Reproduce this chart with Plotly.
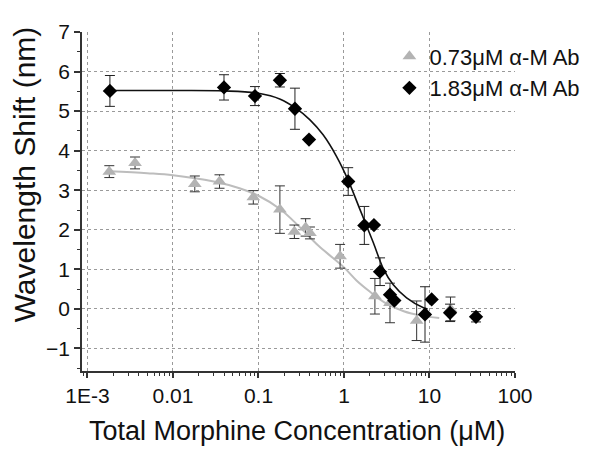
import plotly.graph_objects as go

# ---- data ----
gray_x = [0.0018, 0.0036, 0.018, 0.035, 0.087, 0.178, 0.263, 0.356, 0.40, 0.90, 2.3, 3.45, 7.08, 17.6]
gray_y = [3.47, 3.69, 3.16, 3.22, 2.82, 2.51, 1.95, 2.06, 1.92, 1.33, 0.32, 0.15, -0.30, 0.00]
gray_err = [0.15, 0.15, 0.20, 0.17, 0.17, 0.60, 0.17, 0.22, 0.15, 0.30, 0.45, 0.50, 0.50, 0.30]

black_x = [0.00183, 0.0395, 0.091, 0.178, 0.267, 0.39, 1.12, 1.73, 2.24, 2.64, 3.45, 3.88, 8.86, 10.6, 17.4, 35.0]
black_y = [5.51, 5.60, 5.38, 5.78, 5.06, 4.28, 3.22, 2.11, 2.12, 0.94, 0.36, 0.21, -0.14, 0.24, -0.10, -0.20]
black_err = [0.39, 0.32, 0.24, 0.17, 0.52, 0.0, 0.35, 0.48, 0.0, 0.35, 0.0, 0.0, 0.70, 0.0, 0.22, 0.13]

gray_fit_x = [0.0018, 0.005, 0.01, 0.03, 0.06, 0.1, 0.18, 0.3, 0.5, 0.75, 1.0, 1.4, 2.0, 3.0, 5.0, 8.0, 13.0]
gray_fit_y = [3.48, 3.43, 3.38, 3.22, 3.05, 2.86, 2.52, 2.08, 1.60, 1.28, 1.05, 0.72, 0.44, 0.16, -0.06, -0.17, -0.23]

black_fit_x = [0.0018, 0.01, 0.04, 0.1, 0.18, 0.27, 0.4, 0.57, 0.82, 1.12, 1.54, 2.2, 2.88, 3.77, 5.4, 8.5, 9.5]
black_fit_y = [5.52, 5.52, 5.51, 5.45, 5.30, 5.08, 4.78, 4.40, 3.85, 3.25, 2.51, 1.68, 1.02, 0.61, 0.28, 0.03, 0.00]

x_tickvals = [0.001, 0.01, 0.1, 1, 10, 100]
x_ticktext = ["1E-3", "0.01", "0.1", "1", "10", "100"]
y_tickvals = [-1, 0, 1, 2, 3, 4, 5, 6, 7]

series_names = ["0.73\u03bcM \u03b1-M Ab", "1.83\u03bcM \u03b1-M Ab"]

FONT = "Liberation Sans, Arial, sans-serif"

minor_x = [m * 10 ** e for e in range(-4, 2) for m in range(2, 10) if 0.00086 < m * 10 ** e < 100]
minor_x = [0.0009] + minor_x

fig = go.Figure()

fig.add_trace(go.Scatter(
    x=gray_fit_x, y=gray_fit_y, mode="lines",
    line=dict(color="#bdbdbd", width=2, shape="spline", smoothing=1.0),
    showlegend=False, hoverinfo="skip"))

fig.add_trace(go.Scatter(
    x=gray_x, y=gray_y, mode="markers", name=series_names[0],
    marker=dict(symbol="triangle-up", size=12, color="#b3b3b3"),
    error_y=dict(type="data", array=gray_err, visible=True, color="#333333", thickness=1, width=5)))

fig.add_trace(go.Scatter(
    x=black_fit_x, y=black_fit_y, mode="lines",
    line=dict(color="#111111", width=1.6, shape="spline", smoothing=1.0),
    showlegend=False, hoverinfo="skip"))

fig.add_trace(go.Scatter(
    x=black_x, y=black_y, mode="markers", name=series_names[1],
    marker=dict(symbol="diamond", size=11, color="#000000"),
    error_y=dict(type="data", array=black_err, visible=True, color="#222222", thickness=1, width=5)))

fig.update_layout(
    width=600, height=452,
    # page body has an 8px default margin; margins are offset to compensate
    margin=dict(l=74, r=93, t=18, b=89),
    paper_bgcolor="white", plot_bgcolor="white",
    font=dict(family=FONT, color="#111111", size=21),
    showlegend=True,
    legend=dict(x=0.71, y=0.99, xanchor="left", yanchor="top",
                bgcolor="rgba(0,0,0,0)", borderwidth=0,
                font=dict(family=FONT, size=22, color="#111111")),
    xaxis=dict(
        type="log", range=[-3.064, 2.0],
        tickmode="array", tickvals=x_tickvals, ticktext=x_ticktext,
        ticks="outside", ticklen=5, tickwidth=1.5, tickcolor="#333333",
        showline=True, linecolor="#333333", linewidth=1.8,
        showgrid=True, gridcolor="#9a9a9a", gridwidth=1, griddash="dot",
        zeroline=False,
        tickfont=dict(family=FONT, size=21, color="#111111"),
        minor=dict(tickmode="array", tickvals=minor_x, ticks="outside", ticklen=3,
                   tickwidth=1, tickcolor="#333333", showgrid=False),
    ),
    yaxis=dict(
        range=[-1.57, 7.0],
        tickmode="array", tickvals=y_tickvals,
        ticks="outside", ticklen=6, tickwidth=1.5, tickcolor="#333333",
        showline=True, linecolor="#333333", linewidth=1.8,
        showgrid=True, gridcolor="#9a9a9a", gridwidth=1, griddash="dot",
        zeroline=False,
        tickfont=dict(family=FONT, size=21, color="#111111"),
        minor=dict(dtick=0.5, ticks="outside", ticklen=3, tickwidth=1,
                   tickcolor="#333333", showgrid=False),
    ),
    annotations=[
        dict(text="Total Morphine Concentration (\u03bcM)", xref="paper", yref="paper",
             x=0.4965, y=-0.177, xanchor="center", yanchor="middle", showarrow=False,
             font=dict(family=FONT, size=27, color="#111111")),
        dict(text="Wavelength Shift (nm)", xref="paper", yref="paper",
             x=-0.134, y=0.58, xanchor="center", yanchor="middle", textangle=-90,
             showarrow=False, font=dict(family=FONT, size=30, color="#111111")),
    ],
)

fig.write_html("out.html")
